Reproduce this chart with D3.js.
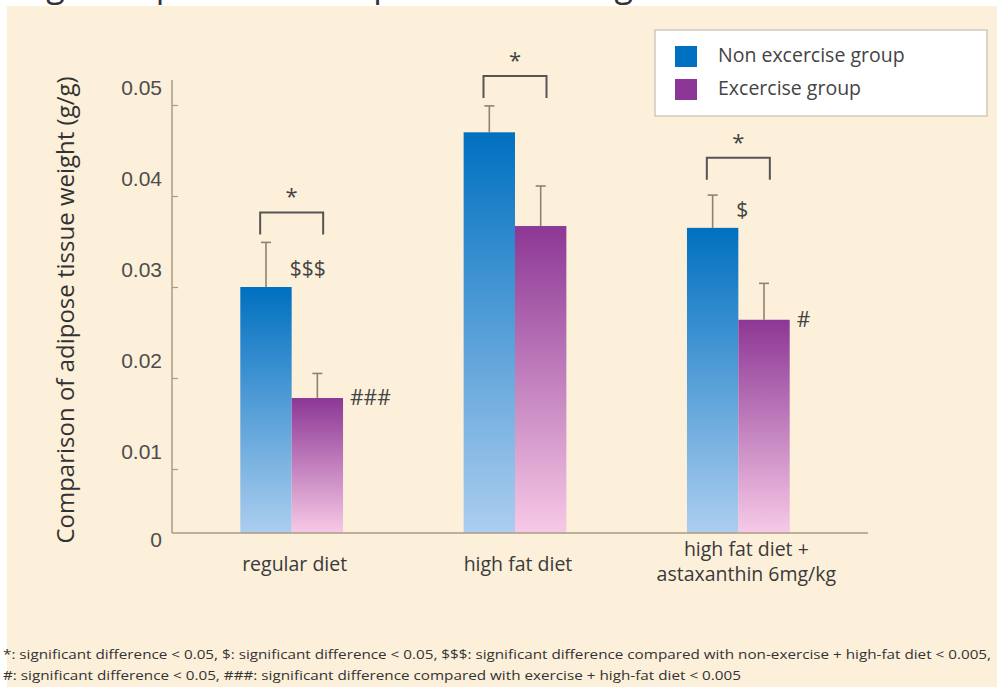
<!DOCTYPE html>
<html>
<head>
<meta charset="utf-8">
<script src="https://cdn.jsdelivr.net/npm/d3@7"></script>
<style>
  html, body { margin: 0; padding: 0; background: #ffffff; }
  svg { display: block; }
</style>
</head>
<body>
<svg id="chart" width="997" height="687"></svg>
<script>
// ---------- data ----------
const categories = ["regular diet", "high fat diet", "high fat diet +|astaxanthin 6mg/kg"];
const seriesNames = ["Non excercise group", "Excercise group"];
const nonExercise = [0.0300, 0.0470, 0.0365];
const nonExerciseErr = [0.0049, 0.0029, 0.0036];
const exercise = [0.0178, 0.0367, 0.0264];
const exerciseErr = [0.0027, 0.0044, 0.0040];
const bracketLevel = [0.0382, 0.0532, 0.0442];
const bracketMark = ["*", "*", "*"];
const nonExerciseMark = ["$$$", "", "$"];
const exerciseMark = ["###", "", "#"];
const yTicks = [0.01, 0.02, 0.03, 0.04, 0.05];
const yTitle = "Comparison of adipose tissue weight (g/g)";
const title = "Fig. Comparison of adipose tissue weight";
const footnotes = [
  "*: significant difference < 0.05, $: significant difference < 0.05, $$$: significant difference compared with non-exercise + high-fat diet < 0.005,",
  "#: significant difference < 0.05, ###: significant difference compared with exercise + high-fat diet < 0.005"
];

// ---------- layout ----------
const svg = d3.select("#chart");
const axisX = 172, axisTop = 80, baseY = 533, axisRight = 868;
const sans = "'Open Sans', 'Noto Sans', sans-serif";

svg.append("rect").attr("x", 7).attr("y", 6).attr("width", 990).attr("height", 681).attr("fill", "#fcf0da");

svg.append("text").attr("x", 20).attr("y", -3)
  .attr("font-family", sans).attr("font-size", 34).attr("fill", "#333")
  .text(title);

const defs = svg.append("defs");
const gradStops = [
  ["gradNon", "#0070c0", "#acceef"],
  ["gradEx", "#8c3795", "#f7c9e6"]
];
gradStops.forEach(([id, top, bottom]) => {
  const g = defs.append("linearGradient").attr("id", id)
    .attr("x1", 0).attr("y1", 0).attr("x2", 0).attr("y2", 1);
  g.append("stop").attr("offset", "0%").attr("stop-color", top);
  g.append("stop").attr("offset", "100%").attr("stop-color", bottom);
});

const y = d3.scaleLinear().domain([0, 0.05]).range([560, 105]);
const x = d3.scaleBand().domain(categories).range([180, 850]).paddingInner(0.54).paddingOuter(0.27);
const xs = d3.scaleBand().domain(["non", "ex"]).range([0, x.bandwidth()]);

// axis
const yAxis = d3.axisLeft(y).tickValues(yTicks).tickSizeInner(-6).tickSizeOuter(0).tickPadding(10)
  .tickFormat(d3.format(".2f"));
const ga = svg.append("g").attr("transform", `translate(${axisX},0)`).call(yAxis);
ga.select(".domain").remove();
ga.selectAll(".tick line").attr("stroke", "#a89c8a").attr("stroke-width", 1.2);
ga.selectAll(".tick text").attr("dy", "-0.5em").attr("font-family", "'Liberation Sans', Arial, sans-serif")
  .attr("font-size", 21).attr("fill", "#4d4d4d");
svg.append("text").attr("x", axisX - 10).attr("y", baseY + 7).attr("dy", "0.35em")
  .attr("text-anchor", "end").attr("font-family", "'Liberation Sans', Arial, sans-serif")
  .attr("font-size", 21).attr("fill", "#4d4d4d").text(d3.format("")(0));

svg.append("line").attr("x1", axisX).attr("x2", axisX).attr("y1", axisTop).attr("y2", baseY)
  .attr("stroke", "#a89c8a").attr("stroke-width", 1.5);

// bars
const rows = categories.map((c, i) => ({
  c, i,
  bars: [
    { key: "non", v: nonExercise[i], e: nonExerciseErr[i], grad: "gradNon", mark: nonExerciseMark[i] },
    { key: "ex", v: exercise[i], e: exerciseErr[i], grad: "gradEx", mark: exerciseMark[i] }
  ]
}));

const groups = svg.selectAll(".grp").data(rows).join("g").attr("class", "grp")
  .attr("transform", d => `translate(${x(d.c)},0)`);

groups.selectAll("rect.bar").data(d => d.bars).join("rect").attr("class", "bar")
  .attr("x", b => xs(b.key)).attr("width", xs.bandwidth())
  .attr("y", b => y(b.v)).attr("height", b => baseY - y(b.v))
  .attr("fill", b => `url(#${b.grad})`);

// error bars
const eb = groups.selectAll("g.err").data(d => d.bars).join("g").attr("class", "err")
  .attr("stroke", "#8f8270").attr("stroke-width", 1.6);
eb.append("line").attr("x1", b => xs(b.key) + xs.bandwidth() / 2).attr("x2", b => xs(b.key) + xs.bandwidth() / 2)
  .attr("y1", b => y(b.v)).attr("y2", b => y(b.v + b.e));
eb.append("line").attr("x1", b => xs(b.key) + xs.bandwidth() / 2 - 5).attr("x2", b => xs(b.key) + xs.bandwidth() / 2 + 5)
  .attr("y1", b => y(b.v + b.e)).attr("y2", b => y(b.v + b.e));

// significance marks next to bars
groups.selectAll("text.mark").data(d => d.bars.filter(b => b.mark)).join("text").attr("class", "mark")
  .attr("x", b => b.key === "non" ? xs(b.key) + xs.bandwidth() - 2 : xs(b.key) + xs.bandwidth() + 7)
  .attr("y", b => b.key === "non" ? y(b.v) - 18 : y(b.v))
  .attr("dy", "0.35em")
  .attr("font-family", sans).attr("font-size", 21).attr("fill", "#444")
  .text(b => b.mark);

// brackets
const bw = 63;
groups.append("path")
  .attr("d", d => {
    const cx = x.bandwidth() / 2, top = y(bracketLevel[d.i]);
    return `M${cx - bw / 2},${top + 22}V${top}H${cx + bw / 2}V${top + 22}`;
  })
  .attr("fill", "none").attr("stroke", "#555").attr("stroke-width", 2);
groups.append("text")
  .attr("x", x.bandwidth() / 2).attr("y", d => y(bracketLevel[d.i]) - 8)
  .attr("text-anchor", "middle").attr("font-family", sans).attr("font-size", 22).attr("fill", "#444")
  .text(d => bracketMark[d.i]);

// baseline
svg.append("line").attr("x1", axisX).attr("x2", axisRight).attr("y1", baseY).attr("y2", baseY)
  .attr("stroke", "#a89c8a").attr("stroke-width", 1.5);

// category labels
groups.each(function(d) {
  const lines = d.c.split("|");
  const t = d3.select(this).append("text")
    .attr("text-anchor", "middle").attr("font-family", sans).attr("font-size", 19.5).attr("fill", "#3a3a3a");
  lines.forEach((ln, k) => {
    t.append("tspan").attr("x", x.bandwidth() / 2 + (lines.length > 1 ? 8 : 3))
      .attr("y", (lines.length > 1 ? 556 : 571) + k * 25).text(ln);
  });
});

// y title
svg.append("text").attr("transform", `translate(74,310) rotate(-90)`)
  .attr("text-anchor", "middle").attr("font-family", sans).attr("font-size", 24).attr("fill", "#333")
  .text(yTitle);

// legend
const lg = svg.append("g").attr("transform", "translate(655,30)");
lg.append("rect").attr("width", 332).attr("height", 86).attr("fill", "#ffffff")
  .attr("stroke", "#c4beb4").attr("stroke-width", 1.2);
const legItems = lg.selectAll("g.li").data(seriesNames).join("g").attr("class", "li")
  .attr("transform", (d, i) => `translate(20,${16 + i * 33})`);
legItems.append("rect").attr("width", 22).attr("height", 21)
  .attr("fill", (d, i) => i === 0 ? "#0070c0" : "#8c3795");
legItems.append("text").attr("x", 43).attr("y", 9).attr("dy", "0.35em")
  .attr("font-family", sans).attr("font-size", 19.5).attr("fill", "#444").text(d => d);

// footnotes
const fnWidths = [988, 738];
footnotes.forEach((f, i) => {
  svg.append("text").attr("x", 3).attr("y", 659 + i * 21)
    .attr("font-family", "'Liberation Sans Narrow', 'Open Sans', sans-serif").attr("font-size", 13.5)
    .attr("fill", "#333")
    .attr("textLength", fnWidths[i]).attr("lengthAdjust", "spacingAndGlyphs")
    .text(f);
});
</script>
</body>
</html>
